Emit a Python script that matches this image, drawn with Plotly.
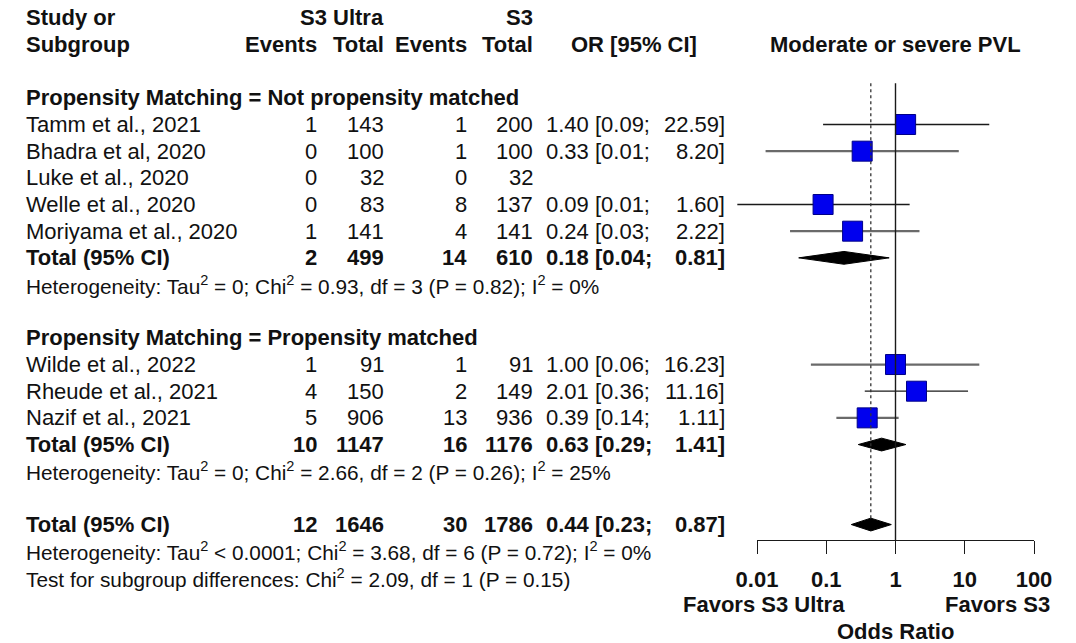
import math
import plotly.graph_objects as go

# ---------------- data ----------------
group_labels = ["Propensity Matching = Not propensity matched",
                "Propensity Matching = Propensity matched"]

g1_studies = ["Tamm et al., 2021", "Bhadra et al, 2020", "Luke et al., 2020",
              "Welle et al., 2020", "Moriyama et al., 2020"]
g1_ev_ultra = [1, 0, 0, 0, 1]
g1_tot_ultra = [143, 100, 32, 83, 141]
g1_ev_s3 = [1, 1, 0, 8, 4]
g1_tot_s3 = [200, 100, 32, 137, 141]
g1_or = [1.40, 0.33, None, 0.09, 0.24]
g1_lo = [0.09, 0.0133, None, 0.0052, 0.03]
g1_hi = [22.59, 8.20, None, 1.60, 2.22]
g1_total = dict(ev_u=2, tot_u=499, ev_s=14, tot_s=610, est=0.18, lo=0.04, hi=0.81)
g1_het = "Heterogeneity: Tau<sup>2</sup> = 0; Chi<sup>2</sup> = 0.93, df = 3 (P = 0.82); I<sup>2</sup> = 0%"

g2_studies = ["Wilde et al., 2022", "Rheude et al., 2021", "Nazif et al., 2021"]
g2_ev_ultra = [1, 4, 5]
g2_tot_ultra = [91, 150, 906]
g2_ev_s3 = [1, 2, 13]
g2_tot_s3 = [91, 149, 936]
g2_or = [1.00, 2.01, 0.39]
g2_lo = [0.06, 0.36, 0.14]
g2_hi = [16.23, 11.16, 1.11]
g2_total = dict(ev_u=10, tot_u=1147, ev_s=16, tot_s=1176, est=0.63, lo=0.29, hi=1.41)
g2_het = "Heterogeneity: Tau<sup>2</sup> = 0; Chi<sup>2</sup> = 2.66, df = 2 (P = 0.26); I<sup>2</sup> = 25%"

overall_total = dict(ev_u=12, tot_u=1646, ev_s=30, tot_s=1786, est=0.44, lo=0.23, hi=0.87)
overall_het = "Heterogeneity: Tau<sup>2</sup> &lt; 0.0001; Chi<sup>2</sup> = 3.68, df = 6 (P = 0.72); I<sup>2</sup> = 0%"
subgroup_test = "Test for subgroup differences: Chi<sup>2</sup> = 2.09, df = 1 (P = 0.15)"

tick_vals = [0.01, 0.1, 1, 10, 100]
tick_text = ["0.01", "0.1", "1", "10", "100"]
label_left = "Favors S3 Ultra"
label_right = "Favors S3"
axis_title = "Odds Ratio"
plot_title = "Moderate or severe PVL"

# ---------------- styles / layout ----------------
W, H = 1076, 643
FONT = "Liberation Sans, Arial, sans-serif"
FS = 22
FS_HET = 20.8
TXT = "#111111"
ROW0_PX, ROW_PX = 124.5, 26.67
AX_L, AX_R, AX_Y = 757, 1034, 540
X_NAME, X_EVU, X_TOTU, X_EVS, X_TOTS, X_ORL, X_ORR, X_ORC = 24, 319, 386, 469, 535, 544, 727, 634
g1_ci_style = ["dark", "grey", None, "dark", "grey"]
g2_ci_style = ["grey", "dark", "grey"]
CI_STYLE = {"dark": dict(color="#1a1a1a", width=1.3), "grey": dict(color="#6a6a6a", width=2.2)}

dpp = 4.0 / (AX_R - AX_L)
x_range = [-2 - AX_L * dpp, 2 + (W - AX_R) * dpp]
y_top = -ROW0_PX / ROW_PX
y_bot = (H - ROW0_PX) / ROW_PX

fig = go.Figure()
ann = []


def txt(s, xpx, r, anchor="right", bold=False, size=FS):
    ann.append(dict(text=("<b>%s</b>" % s) if bold else s, x=xpx / W, xref="paper",
                    y=r, yref="y", xanchor=anchor, yanchor="middle", showarrow=False,
                    font=dict(size=size, family=FONT, color=TXT)))


def row_numbers(r, evu, totu, evs, tots, est, lo, hi, bold=False):
    txt(str(evu), X_EVU, r, bold=bold)
    txt(str(totu), X_TOTU, r, bold=bold)
    txt(str(evs), X_EVS, r, bold=bold)
    txt(str(tots), X_TOTS, r, bold=bold)
    if est is not None:
        txt(f"{est:.2f} [{lo:.2f};", X_ORL, r, anchor="left", bold=bold)
        txt(f"{hi:.2f}]", X_ORR, r, anchor="right", bold=bold)


def diamond(r, est, lo, hi, h=0.24):
    fig.add_trace(go.Scatter(x=[lo, est, hi, est, lo], y=[r, r - h, r, r + h, r],
                             mode="lines", fill="toself", fillcolor="black",
                             line=dict(color="black", width=1), showlegend=False,
                             hoverinfo="skip"))


def study_marks(r, est, lo, hi, style):
    if est is None:
        return
    fig.add_trace(go.Scatter(x=[lo, hi], y=[r, r], mode="lines", line=CI_STYLE[style],
                             showlegend=False, hoverinfo="skip"))
    fig.add_trace(go.Scatter(x=[est], y=[r], mode="markers",
                             marker=dict(symbol="square", size=20, color="#0000ee",
                                         line=dict(color="#000088", width=1)),
                             showlegend=False, hoverinfo="skip"))


# header
txt("Study or", X_NAME, -4, anchor="left", bold=True)
txt("Subgroup", X_NAME, -3, anchor="left", bold=True)
txt("S3 Ultra", X_TOTU, -4, bold=True)
txt("S3", X_TOTS, -4, bold=True)
txt("Events", X_EVU, -3, bold=True)
txt("Total", X_TOTU, -3, bold=True)
txt("Events", X_EVS, -3, bold=True)
txt("Total", X_TOTS, -3, bold=True)
txt("OR [95% CI]", X_ORC, -3, anchor="center", bold=True)
ann.append(dict(text="<b>%s</b>" % plot_title, x=0, xref="x", y=-3, yref="y",
                xanchor="center", yanchor="middle", showarrow=False,
                font=dict(size=FS, family=FONT, color=TXT)))

groups = [
    (group_labels[0], g1_studies, g1_ev_ultra, g1_tot_ultra, g1_ev_s3, g1_tot_s3,
     g1_or, g1_lo, g1_hi, g1_total, g1_het, g1_ci_style),
    (group_labels[1], g2_studies, g2_ev_ultra, g2_tot_ultra, g2_ev_s3, g2_tot_s3,
     g2_or, g2_lo, g2_hi, g2_total, g2_het, g2_ci_style),
]

r = -1
for (lab, names, evu, totu, evs, tots, ors, los, his, tot, het, styles) in groups:
    txt(lab, X_NAME, r, anchor="left", bold=True)
    r += 1
    for i, nm in enumerate(names):
        txt(nm, X_NAME, r, anchor="left")
        row_numbers(r, evu[i], totu[i], evs[i], tots[i], ors[i], los[i], his[i])
        study_marks(r, ors[i], los[i], his[i], styles[i])
        r += 1
    txt("Total (95% CI)", X_NAME, r, anchor="left", bold=True)
    row_numbers(r, tot["ev_u"], tot["tot_u"], tot["ev_s"], tot["tot_s"],
                tot["est"], tot["lo"], tot["hi"], bold=True)
    diamond(r, tot["est"], tot["lo"], tot["hi"])
    r += 1
    txt(het, X_NAME, r, anchor="left", size=FS_HET)
    r += 2

r_overall = r
txt("Total (95% CI)", X_NAME, r_overall, anchor="left", bold=True)
row_numbers(r_overall, overall_total["ev_u"], overall_total["tot_u"], overall_total["ev_s"],
            overall_total["tot_s"], overall_total["est"], overall_total["lo"],
            overall_total["hi"], bold=True)
diamond(r_overall, overall_total["est"], overall_total["lo"], overall_total["hi"])
txt(overall_het, X_NAME, r_overall + 1, anchor="left", size=FS_HET)
txt(subgroup_test, X_NAME, r_overall + 2, anchor="left", size=FS_HET)

# reference lines
r_axis = (AX_Y - ROW0_PX) / ROW_PX
r_line_top = -1.55
fig.add_trace(go.Scatter(x=[1, 1], y=[r_line_top, r_axis], mode="lines",
                         line=dict(color="#1a1a1a", width=1.4), showlegend=False, hoverinfo="skip"))
fig.add_trace(go.Scatter(x=[overall_total["est"]] * 2, y=[r_line_top, r_overall - 0.25], mode="lines",
                         line=dict(color="#333333", width=1.3, dash="dot"), showlegend=False,
                         hoverinfo="skip"))

# dummy trace to attach the visible odds-ratio axis (own subplot x2/y2)
fig.add_trace(go.Scatter(x=[tick_vals[0], tick_vals[-1]], y=[None, None], xaxis="x2",
                         yaxis="y2", mode="lines", showlegend=False, hoverinfo="skip"))

# axis labels
ann.append(dict(text="<b>%s</b>" % label_left, x=0, xref="x2", xshift=-49,
                y=1 - 604 / H, yref="paper", xanchor="right", yanchor="middle",
                showarrow=False, font=dict(size=FS, family=FONT, color=TXT)))
ann.append(dict(text="<b>%s</b>" % label_right, x=0, xref="x2", xshift=47,
                y=1 - 604 / H, yref="paper", xanchor="left", yanchor="middle",
                showarrow=False, font=dict(size=FS, family=FONT, color=TXT)))
ann.append(dict(text="<b>%s</b>" % axis_title, x=0, xref="x2",
                y=1 - 631 / H, yref="paper", xanchor="center", yanchor="middle",
                showarrow=False, font=dict(size=FS, family=FONT, color=TXT)))

fig.update_layout(
    width=W, height=H, margin=dict(l=0, r=0, t=0, b=0, pad=0, autoexpand=False),
    paper_bgcolor="white", plot_bgcolor="rgba(0,0,0,0)", showlegend=False,
    xaxis=dict(type="log", range=x_range, domain=[0, 1], visible=False, fixedrange=True,
               automargin=False),
    yaxis=dict(range=[y_bot, y_top], domain=[0, 1], visible=False, fixedrange=True,
               automargin=False),
    xaxis2=dict(type="log", range=[-2, 2], domain=[AX_L / W, AX_R / W],
                anchor="y2", side="bottom", automargin=False,
                showline=True, linecolor="#1a1a1a", linewidth=1.4,
                ticks="outside", ticklen=13, tickwidth=1.4, tickcolor="#1a1a1a",
                tickvals=tick_vals, ticktext=["<b>%s</b>" % t for t in tick_text],
                tickfont=dict(size=FS, family=FONT, color=TXT), ticklabelstandoff=6,
                showgrid=False, zeroline=False, fixedrange=True),
    yaxis2=dict(domain=[1 - AX_Y / H, 1], anchor="x2", range=[0, 1], visible=False,
                fixedrange=True, automargin=False),
    annotations=ann,
)

fig.write_html("out.html")
